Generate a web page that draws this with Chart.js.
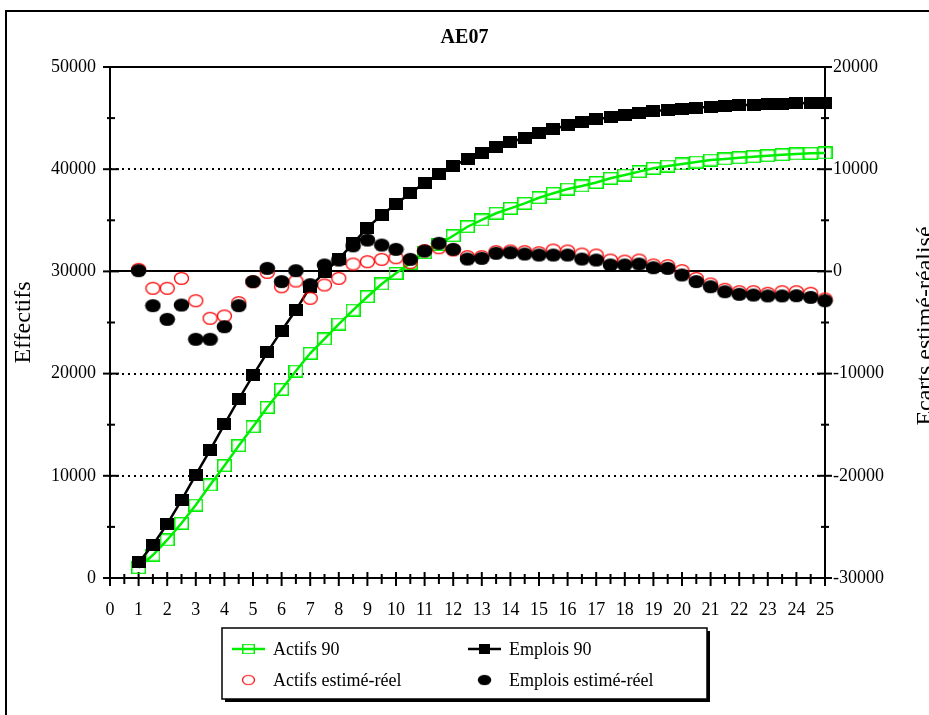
<!DOCTYPE html>
<html lang="fr">
<head>
<meta charset="UTF-8">
<title>AE07</title>
<style>
  html, body { margin: 0; padding: 0; overflow: hidden; background: #fff; }
  #wrap { position: relative; width: 929px; height: 715px; }
</style>
</head>
<body>
<div id="wrap"><canvas id="ae07Chart" width="929" height="715"></canvas></div>
<script src="https://cdn.jsdelivr.net/npm/chart.js"></script>
<script>
// abscisses (années)
const periods = [1, 1.5, 2, 2.5, 3, 3.5, 4, 4.5, 5, 5.5, 6, 6.5, 7, 7.5, 8, 8.5, 9, 9.5, 10, 10.5,
  11, 11.5, 12, 12.5, 13, 13.5, 14, 14.5, 15, 15.5, 16, 16.5, 17, 17.5, 18, 18.5, 19, 19.5, 20, 20.5,
  21, 21.5, 22, 22.5, 23, 23.5, 24, 24.5, 25];

// axe de gauche
const actifs90 = [1000, 2250, 3720, 5350, 7140, 9100, 10990, 12950, 14800, 16700,
  18460, 20250, 21990, 23390, 24850, 26220, 27520, 28770, 29810, 30790,
  31830, 32650, 33490, 34370, 35030, 35690, 36170, 36660, 37210, 37640,
  38060, 38360, 38700, 39110, 39430, 39760, 40090, 40310, 40510, 40700,
  40900, 41000, 41120, 41220, 41320, 41420, 41490, 41560, 41590];
const emplois90 = [1540, 3230, 5280, 7630, 10080, 12520, 15040, 17490, 19830, 22080,
  24200, 26220, 28500, 29900, 31200, 32750, 34280, 35520, 36600, 37640,
  38680, 39530, 40310, 41000, 41610, 42140, 42660, 43080, 43510, 43930,
  44300, 44620, 44880, 45080, 45300, 45530, 45700, 45790, 45890, 46020,
  46120, 46180, 46250, 46310, 46350, 46410, 46450, 46480, 46510];

// axe de droite (écarts)
const actifsEcart = [200, -1650, -1650, -680, -2870, -4590, -4360, -3060, -1010, -90,
  -1500, -940, -2630, -1330, -680, 720, 950, 1180, 1340, 850,
  2030, 2320, 2100, 1440, 1440, 1930, 2000, 1930, 1830, 2090,
  2000, 1700, 1600, 1110, 1010, 1110, 630, 560, 70, -680,
  -1230, -1750, -1990, -1990, -2140, -1990, -1990, -2140, -2700];
const emploisEcart = [70, -3350, -4690, -3290, -6640, -6640, -5410, -3350, -1000, 300,
  -1000, 70, -1300, 630, 1110, 2500, 3070, 2580, 2160, 1180,
  2000, 2750, 2160, 1210, 1280, 1770, 1830, 1700, 1600, 1600,
  1600, 1210, 1110, 630, 630, 720, 360, 300, -350, -1000,
  -1500, -1990, -2240, -2310, -2400, -2400, -2380, -2540, -2870];

const xTicks = [0, 1, 2, 3, 4, 5, 6, 7, 8, 9, 10, 11, 12, 13, 14, 15, 16, 17, 18, 19, 20, 21, 22, 23, 24, 25];
const leftTicks = [0, 10000, 20000, 30000, 40000, 50000];
const rightTicks = [-30000, -20000, -10000, 0, 10000, 20000];

const GREEN = '#00ee00';
const SERIF = '"Liberation Serif", "Times New Roman", serif';

// petits marqueurs (un peu plus larges que hauts, comme sur l'original)
function marker(w, h, draw) {
  const c = document.createElement('canvas');
  c.width = w; c.height = h;
  draw(c.getContext('2d'));
  return c;
}
const greenSquare = marker(15, 13, g => {
  g.strokeStyle = GREEN; g.lineWidth = 1.5;
  g.strokeRect(0.75, 0.75, 13.5, 11.5);
});
const blackSquare = marker(14, 12, g => { g.fillStyle = '#000'; g.fillRect(0, 0, 14, 12); });
const redRing = marker(17, 15, g => {
  g.strokeStyle = '#ff0000'; g.lineWidth = 1.3;
  g.beginPath(); g.ellipse(8.5, 7.5, 7, 5.9, 0, 0, Math.PI * 2); g.stroke();
});
const blackDot = marker(17, 15, g => {
  g.fillStyle = '#000';
  g.beginPath(); g.ellipse(8.5, 7.5, 7.8, 6.6, 0, 0, Math.PI * 2); g.fill();
});

const toXY = arr => periods.map((x, i) => ({ x: x, y: arr[i] }));

function seg(ctx, x1, y1, x2, y2) {
  ctx.beginPath(); ctx.moveTo(x1, y1); ctx.lineTo(x2, y2); ctx.stroke();
}

// axes, graduations, pointillés, ligne du zéro
const axesFrame = {
  id: 'axesFrame',
  beforeDatasetsDraw(chart) {
    const { ctx, chartArea: a } = chart;
    const { x, y, y2 } = chart.scales;
    ctx.save();
    ctx.strokeStyle = '#000';
    ctx.lineWidth = 2;

    ctx.setLineDash([2, 4]);
    y.ticks.forEach(t => {
      if (t.value === y.min || t.value === y.max) return;
      const py = Math.round(y.getPixelForValue(t.value));
      seg(ctx, a.left, py, a.right, py);
    });
    ctx.setLineDash([]);

    const z = Math.round(y2.getPixelForValue(0));
    seg(ctx, a.left, z, a.right, z);

    seg(ctx, a.left - 1, a.top, a.right + 1, a.top);
    seg(ctx, a.left, a.top, a.left, a.bottom + 1);
    seg(ctx, a.right, a.top, a.right, a.bottom + 1);
    seg(ctx, a.left - 1, a.bottom, a.right + 1, a.bottom);

    const xv = x.ticks.map(t => t.value);
    xv.forEach((v, i) => {
      const px = x.getPixelForValue(v);
      seg(ctx, px, a.bottom - 6, px, a.bottom + 8);
      if (i < xv.length - 1) {
        const pm = x.getPixelForValue((v + xv[i + 1]) / 2);
        seg(ctx, pm, a.bottom - 4, pm, a.bottom + 6);
      }
    });

    const lv = y.ticks.map(t => t.value);
    lv.forEach((v, i) => {
      const py = y.getPixelForValue(v);
      seg(ctx, a.left - 7, py, a.left + 9, py);
      if (i < lv.length - 1) {
        const pm = y.getPixelForValue((v + lv[i + 1]) / 2);
        seg(ctx, a.left - 3, pm, a.left + 5, pm);
      }
    });

    const rv = y2.ticks.map(t => t.value);
    rv.forEach((v, i) => {
      const py = y2.getPixelForValue(v);
      seg(ctx, a.right - 8, py, a.right + 7, py);
      if (i < rv.length - 1) {
        const pm = y2.getPixelForValue((v + rv[i + 1]) / 2);
        seg(ctx, a.right - 4, pm, a.right + 4, pm);
      }
    });
    ctx.restore();
  },
  afterDraw(chart) {
    const ctx = chart.ctx;
    ctx.save();

    // titre de l'axe de droite (lu de bas en haut)
    ctx.fillStyle = '#000';
    ctx.font = '24px ' + SERIF;
    ctx.textAlign = 'center';
    ctx.textBaseline = 'alphabetic';
    ctx.translate(932, 326);
    ctx.rotate(-Math.PI / 2);
    ctx.fillText('Ecarts estimé-réalisé', 0, 0);
    ctx.setTransform(1, 0, 0, 1, 0, 0);

    // cadre extérieur
    ctx.strokeStyle = '#000';
    ctx.lineWidth = 2;
    ctx.strokeRect(6, 11, 1000, 1000);

    // légende
    const L = { x: 222, y: 628, w: 485, h: 71 };
    ctx.fillStyle = '#000';
    ctx.fillRect(L.x + 3, L.y + 3, L.w, L.h);
    ctx.fillStyle = '#fff';
    ctx.fillRect(L.x, L.y, L.w, L.h);
    ctx.lineWidth = 1.5;
    ctx.strokeRect(L.x, L.y, L.w, L.h);

    const cols = [232, 468];
    const rows = [649, 680];
    const byIndex = [0, 1, 2, 3];
    ctx.font = '18px ' + SERIF;
    ctx.textAlign = 'left';
    ctx.textBaseline = 'middle';
    byIndex.forEach(i => {
      const ds = chart.data.datasets[i];
      const cx = cols[i % 2], cy = rows[Math.floor(i / 2)];
      if (ds.showLine !== false) {
        ctx.strokeStyle = ds.borderColor;
        ctx.lineWidth = 2.5;
        seg(ctx, cx, cy, cx + 33, cy);
      }
      const img = ds.pointStyle;
      const w = img.width * 0.85, h = img.height * 0.8;
      ctx.drawImage(img, cx + 16.5 - w / 2, cy - h / 2, w, h);
      ctx.fillStyle = '#000';
      ctx.fillText(ds.label, cx + 41, cy + 1);
    });
    ctx.restore();
  }
};

Chart.defaults.font.family = SERIF;
Chart.defaults.color = '#000';

new Chart(document.getElementById('ae07Chart'), {
  type: 'line',
  data: {
    datasets: [
      {
        label: 'Actifs 90', data: toXY(actifs90), yAxisID: 'y', order: 3,
        borderColor: GREEN, borderWidth: 2.5, pointStyle: greenSquare, pointRadius: 7,
        clip: false
      },
      {
        label: 'Emplois 90', data: toXY(emplois90), yAxisID: 'y', order: 2,
        borderColor: '#000', borderWidth: 2.5, pointStyle: blackSquare, pointRadius: 7,
        clip: false
      },
      {
        label: 'Actifs estimé-réel', data: toXY(actifsEcart), yAxisID: 'y2', order: 1,
        showLine: false, borderColor: '#ff0000', pointStyle: redRing, pointRadius: 7,
        clip: false
      },
      {
        label: 'Emplois estimé-réel', data: toXY(emploisEcart), yAxisID: 'y2', order: 0,
        showLine: false, borderColor: '#000', pointStyle: blackDot, pointRadius: 7,
        clip: false
      }
    ]
  },
  options: {
    responsive: false,
    animation: false,
    devicePixelRatio: 1,
    layout: { padding: 0 },
    plugins: {
      legend: { display: false },
      tooltip: { enabled: false },
      title: {
        display: true, text: 'AE07', color: '#000',
        font: { size: 20, weight: 'bold', family: SERIF },
        padding: { top: 26, bottom: 17 }
      }
    },
    scales: {
      x: {
        type: 'linear', min: 0, max: 25,
        grid: { display: false, drawTicks: false }, border: { display: false },
        afterBuildTicks: s => { s.ticks = xTicks.map(v => ({ value: v })); },
        ticks: { autoSkip: false, maxRotation: 0, padding: 21, font: { size: 18 } },
        afterFit: s => { s.height = 137; }
      },
      y: {
        type: 'linear', position: 'left', min: 0, max: 50000,
        grid: { display: false, drawTicks: false }, border: { display: false },
        afterBuildTicks: s => { s.ticks = leftTicks.map(v => ({ value: v })); },
        ticks: { padding: 14, font: { size: 18 }, callback: v => String(v) },
        title: { display: true, text: 'Effectifs', font: { size: 24 }, padding: { top: 9, bottom: 0 } },
        afterFit: s => { s.width = 110; }
      },
      y2: {
        type: 'linear', position: 'right', min: -30000, max: 20000,
        grid: { display: false, drawTicks: false }, border: { display: false },
        afterBuildTicks: s => { s.ticks = rightTicks.map(v => ({ value: v })); },
        ticks: { padding: 8, font: { size: 18 }, callback: v => String(v) },
        afterFit: s => { s.width = 104; }
      }
    }
  },
  plugins: [axesFrame]
});
</script>
</body>
</html>
